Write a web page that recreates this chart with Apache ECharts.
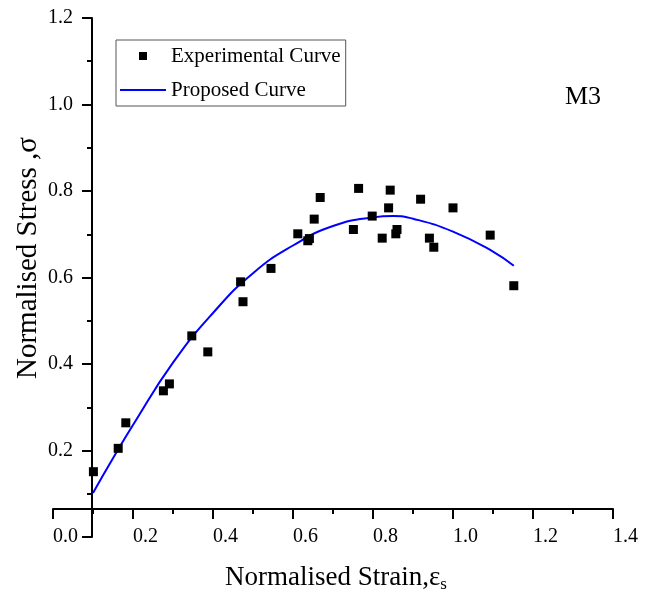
<!DOCTYPE html>
<html>
<head>
<meta charset="utf-8">
<title>M3 stress-strain</title>
<style>
html,body{margin:0;padding:0;background:#fff;}
#main{width:654px;height:596px;}
</style>
</head>
<body>
<div id="main"></div>
<script src="https://cdn.jsdelivr.net/npm/echarts@6/dist/echarts.min.js"></script>
<script type="text/javascript">
// experimental points (normalised strain / stress)
var expStrain = [0.101, 0.163, 0.182, 0.276, 0.291, 0.347, 0.387, 0.469, 0.475, 0.545,
                 0.612, 0.637, 0.641, 0.653, 0.668, 0.751, 0.764, 0.798, 0.823, 0.843,
                 0.839, 0.860, 0.857, 0.919, 0.941, 0.952, 1.000, 1.093, 1.152];
var expStress = [0.151, 0.205, 0.264, 0.338, 0.354, 0.465, 0.428, 0.590, 0.544, 0.621,
                 0.701, 0.685, 0.690, 0.735, 0.785, 0.711, 0.806, 0.742, 0.691, 0.802,
                 0.761, 0.711, 0.701, 0.781, 0.691, 0.670, 0.761, 0.698, 0.581];
// proposed curve
var fitStrain = [0.10, 0.15, 0.20, 0.30, 0.40, 0.50, 0.60, 0.70, 0.80, 0.85, 0.90, 1.00, 1.10, 1.152];
var fitStress = [0.102, 0.182, 0.259, 0.403, 0.518, 0.610, 0.674, 0.719, 0.739, 0.742, 0.736, 0.706, 0.660, 0.627];
var xTicks = [0.0, 0.2, 0.4, 0.6, 0.8, 1.0, 1.2, 1.4];
var yTicks = [0.0, 0.2, 0.4, 0.6, 0.8, 1.0, 1.2];

var serif = '"Liberation Serif", "DejaVu Serif", serif';

var expData = [];
for (var i = 0; i < expStrain.length; i++) {
    expData.push([expStrain[i], expStress[i]]);
}
var fitData = [];
for (var j = 0; j < fitStrain.length; j++) {
    fitData.push([fitStrain[j], fitStress[j]]);
}

var myChart = echarts.init(document.getElementById('main'), null, {renderer: 'canvas'});

// legend icons: empty move points keep the box 46x10 so the square stays square
var squareIcon = 'path://M0,0M46,10M19,1h8v8h-8z';
var lineIcon = 'path://M0,0M46,10M0,4h46v2h-46z';

var option = {
    animation: false,
    backgroundColor: '#fff',
    grid: {
        left: 53, right: 41, top: 18, bottom: 59,
        containLabel: false,
        outerBoundsMode: 'none'
    },
    legend: {
        orient: 'vertical',
        left: 116, top: 40,
        borderColor: '#555', borderWidth: 1, borderRadius: 0,
        padding: [4, 5, 4, 4],
        itemWidth: 46, itemHeight: 10, itemGap: 10,
        textStyle: {fontFamily: serif, fontSize: 21, color: '#000', lineHeight: 24},
        data: [
            {name: 'Experimental Curve', icon: squareIcon},
            {name: 'Proposed Curve', icon: lineIcon}
        ]
    },
    xAxis: {
        type: 'value',
        min: xTicks[0], max: xTicks[xTicks.length - 1], interval: 0.2,
        offset: -28,
        axisLine: {onZero: false, lineStyle: {color: '#000', width: 2}},
        axisTick: {show: true, length: 10, lineStyle: {color: '#000', width: 2}},
        minorTick: {show: true, splitNumber: 2, length: 5, lineStyle: {color: '#000', width: 2}},
        splitLine: {show: false},
        axisLabel: {
            margin: 18, align: 'left',
            fontFamily: serif, fontSize: 20, color: '#000', lineHeight: 20,
            formatter: function (v) { return v.toFixed(1); }
        }
    },
    yAxis: {
        type: 'value',
        min: yTicks[0], max: yTicks[yTicks.length - 1], interval: 0.2,
        offset: -39,
        axisLine: {onZero: false, lineStyle: {color: '#000', width: 2}},
        axisTick: {show: true, length: 10, lineStyle: {color: '#000', width: 2}},
        minorTick: {show: true, splitNumber: 2, length: 5, lineStyle: {color: '#000', width: 2}},
        splitLine: {show: false},
        axisLabel: {
            margin: 19, showMinLabel: false,
            fontFamily: serif, fontSize: 20, color: '#000',
            formatter: function (v) { return v.toFixed(1); }
        }
    },
    series: [
        {
            name: 'Proposed Curve',
            type: 'line',
            smooth: true,
            symbol: 'none',
            lineStyle: {color: '#0000ff', width: 2},
            itemStyle: {color: '#0000ff'},
            data: fitData,
            z: 2
        },
        {
            name: 'Experimental Curve',
            type: 'scatter',
            symbol: 'rect',
            symbolSize: 9,
            itemStyle: {color: '#000', opacity: 1},
            data: expData,
            z: 3
        }
    ],
    graphic: [
        {   // x axis title
            type: 'text', x: 336, y: 578,
            style: {
                text: '{a|Normalised Strain,ε}{s|s}',
                align: 'center', verticalAlign: 'middle',
                rich: {
                    a: {fontFamily: serif, fontSize: 27, fill: '#000'},
                    s: {fontFamily: serif, fontSize: 17, fill: '#000', padding: [14, 0, 0, 0]}
                }
            }
        },
        {   // y axis title
            type: 'text', x: 28, y: 258, rotation: Math.PI / 2,
            style: {
                text: 'Normalised Stress ,σ',
                align: 'center', verticalAlign: 'middle',
                fontFamily: serif, fontSize: 29, fill: '#000'
            }
        },
        {
            type: 'text', x: 565, y: 97,
            style: {
                text: 'M3',
                verticalAlign: 'middle',
                fontFamily: serif, fontSize: 26, fill: '#000'
            }
        }
    ]
};

myChart.setOption(option);
</script>
</body>
</html>
